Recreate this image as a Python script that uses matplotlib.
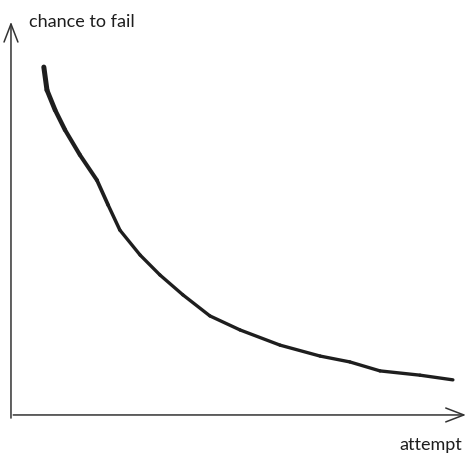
import matplotlib
matplotlib.use('Agg')
import matplotlib.pyplot as plt

# hand-read values off the sketch (attempt, chance to fail in %)
attempt = [0.73, 0.80, 0.98, 1.20, 1.53, 1.91, 2.16, 2.42, 2.87, 3.31,
           3.82, 4.42, 5.09, 5.98, 6.87, 7.53, 8.20, 9.09, 9.82]
chance = [88.7, 82.8, 77.7, 72.6, 66.2, 59.7, 53.3, 46.9, 40.5, 35.4,
          30.3, 24.9, 21.3, 17.4, 14.6, 13.1, 10.8, 9.7, 8.5]

fig = plt.figure(figsize=(4.77, 4.65), dpi=100, facecolor='w')
ax = fig.add_axes([0, 0, 1, 1])
ax.set_xlim(-0.244, 10.356)
ax.set_ylim(-13.33, 105.9)
ax.axis('off')

ink = '#1e1e1e'
arrow = dict(arrowstyle='->,head_length=1.3,head_width=0.5', color='#333333', lw=1.1,
             shrinkA=0, shrinkB=0)
# axes drawn as sketchy arrows
ax.annotate('', xy=(0, 100.3), xytext=(0, -1.3), arrowprops=arrow)
ax.annotate('', xy=(10.11, -0.5), xytext=(0.05, -0.5), arrowprops=arrow)

# pen stroke thins out along the curve
widths = [3.6, 3.4, 3.2, 3.0, 2.9, 2.7, 2.5]
for i in range(len(attempt) - 1):
    w = widths[i] if i < len(widths) else 2.4
    ax.plot(attempt[i:i + 2], chance[i:i + 2], color=ink, lw=w,
            solid_capstyle='round', solid_joinstyle='round')

ax.text(0.4, 100.3, 'chance to fail', fontsize=13, family='Lato', color=ink,
        va='center', ha='left')
ax.text(8.64, -8.2, 'attempt', fontsize=13, family='Lato', color=ink,
        va='center', ha='left')

fig.savefig('out.png', dpi=100)
